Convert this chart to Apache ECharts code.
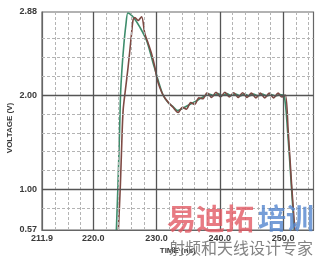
<!DOCTYPE html>
<html>
<head>
<meta charset="utf-8">
<script src="https://cdn.jsdelivr.net/npm/echarts@6/dist/echarts.min.js"></script>
<style>html,body{margin:0;padding:0;background:#fff;}#c{width:320px;height:259px;}</style>
</head>
<body>
<div id="c"></div>
<script>
// Tick labels
var xTickLabels = [211.9, 220.0, 230.0, 240.0, 250.0];
var yTickLabels = [0.57, 1.00, 2.00, 2.88];
// Grid lines
var xMajor = [220, 230, 240, 250];
var xMinor = [214, 216, 218, 222, 224, 226, 228, 232, 234, 236, 238, 242, 244, 246, 248, 252, 254];
var yMajor = [1.0, 2.0];
var yMinor = [0.8, 1.2, 1.4, 1.6, 1.8, 2.2, 2.4, 2.6];
// Green trace
var greenT = [223.65,223.9,224.16,224.31,224.52,224.83,225.15,225.46,225.78,226.41,227.36,228.41,229.45,230.24,231.03,231.82,232.56,233.35,234.14,235.24,236.35,237.45,238.3,239.0,239.7,240.4,241.1,241.8,242.5,243.2,243.9,244.6,245.3,246.0,246.7,247.4,248.1,248.8,249.5,250.15,250.7,251.3,251.75];
var greenV = [0.57,1.04,1.62,2.0,2.26,2.53,2.74,2.87,2.86,2.82,2.72,2.58,2.34,2.16,2.0,1.92,1.88,1.835,1.86,1.9,1.94,1.985,2.01,1.995,2.015,1.995,2.015,1.995,2.01,1.99,2.01,1.99,2.01,1.99,2.01,1.99,2.005,1.99,2.005,1.995,1.62,1.04,0.57];
// Brown trace
var brownT = [223.97,224.28,224.52,224.72,225.07,225.51,226.05,226.3,226.57,227.09,227.63,228.15,228.67,229.2,229.72,230.09,230.51,231.03,231.82,232.6,233.4,234.1,234.7,235.4,236.0,236.7,237.3,238.0,238.7,239.4,240.1,240.8,241.5,242.2,242.9,243.6,244.3,245.0,245.7,246.4,247.1,247.8,248.5,249.2,249.8,250.35,250.8,251.35,251.85];
var brownV = [0.57,1.04,1.52,1.84,2.05,2.3,2.65,2.8,2.82,2.79,2.83,2.65,2.55,2.44,2.3,2.17,2.08,2.0,1.925,1.87,1.815,1.87,1.85,1.92,1.9,1.97,1.96,2.025,1.975,2.03,1.98,2.03,1.98,2.025,1.975,2.025,1.975,2.02,1.97,2.02,1.97,2.02,1.97,2.02,1.98,2.0,1.62,1.04,0.57];

function pairs(t, v) { return t.map(function (x, i) { return [x, v[i]]; }); }

var gridLines = [];
xMinor.forEach(function (v) { gridLines.push({ xAxis: v, lineStyle: { color: '#b4b4b4', width: 1, type: [3, 2] } }); });
yMinor.forEach(function (v) { gridLines.push({ yAxis: v, lineStyle: { color: '#b4b4b4', width: 1, type: [3, 2] } }); });
xMajor.forEach(function (v) { gridLines.push({ xAxis: v, lineStyle: { color: '#555', width: 1.3, type: 'solid' } }); });
yMajor.forEach(function (v) { gridLines.push({ yAxis: v, lineStyle: { color: '#555', width: 1.3, type: 'solid' } }); });

var labelFont = { fontFamily: 'Liberation Sans', fontWeight: 'bold', fontSize: 9, color: '#3a3a3a' };

var chart = echarts.init(document.getElementById('c'), null, { renderer: 'canvas' });
chart.setOption({
  animation: false,
  backgroundColor: '#fff',
  grid: { left: 42, right: 6.5, top: 12, bottom: 29, containLabel: false, outerBoundsMode: 'none', show: true, borderColor: '#666', borderWidth: 1.2, backgroundColor: 'transparent' },
  xAxis: {
    type: 'value', min: 211.9, max: 254.8,
    name: 'TIME (ns)', nameLocation: 'middle', nameGap: 17, nameMoveOverlap: false,
    nameTextStyle: { fontFamily: 'Liberation Sans', fontWeight: 'bold', fontSize: 8, color: '#3a3a3a' },
    axisLine: { show: true, lineStyle: { color: '#666', width: 1.2 } },
    axisTick: { show: false },
    splitLine: { show: false },
    axisLabel: Object.assign({ customValues: xTickLabels, margin: 4, formatter: function (v) { return v.toFixed(1); } }, labelFont)
  },
  yAxis: {
    type: 'value', min: 0.57, max: 2.88,
    name: 'VOLTAGE (V)', nameLocation: 'middle', nameGap: 28, nameMoveOverlap: false,
    nameTextStyle: { fontFamily: 'Liberation Sans', fontWeight: 'bold', fontSize: 8, color: '#3a3a3a', padding: [0, 14, 0, 0] },
    axisLine: { show: true, lineStyle: { color: '#666', width: 1.2 } },
    axisTick: { show: false },
    splitLine: { show: false },
    axisLabel: Object.assign({ customValues: yTickLabels, margin: 5, formatter: function (v) { return v.toFixed(2); } }, labelFont)
  },
  series: [
    {
      type: 'line', data: [], z: 1, silent: true,
      markLine: { silent: true, symbol: 'none', label: { show: false }, animation: false, data: gridLines }
    },
    {
      type: 'line', name: 'green', z: 2, data: pairs(greenT, greenV), showSymbol: false, smooth: 0.3,
      lineStyle: { color: '#3e8d6c', width: 1.6 }
    },
    {
      type: 'line', name: 'brown', z: 3, data: pairs(brownT, brownV), showSymbol: false, smooth: 0.3,
      lineStyle: { color: '#7e4a44', width: 1.6 }
    }
  ],
  graphic: [
    { type: 'text', left: 167, top: 204, z: 100, style: { text: '易迪拓', fontFamily: 'Noto Sans CJK SC', fontWeight: 'bold', fontSize: 29, fill: 'rgba(226,90,100,0.8)' } },
    { type: 'text', left: 258, top: 204, z: 100, style: { text: '培训', fontFamily: 'Noto Sans CJK SC', fontWeight: 'bold', fontSize: 28, fill: 'rgba(84,134,206,0.8)' } },
    { type: 'text', left: 169, top: 240, z: 100, style: { text: '射频和天线设计专家', fontFamily: 'Noto Sans CJK SC', fontSize: 16, fill: 'rgba(120,120,120,0.92)' } }
  ]
});
</script>
</body>
</html>
